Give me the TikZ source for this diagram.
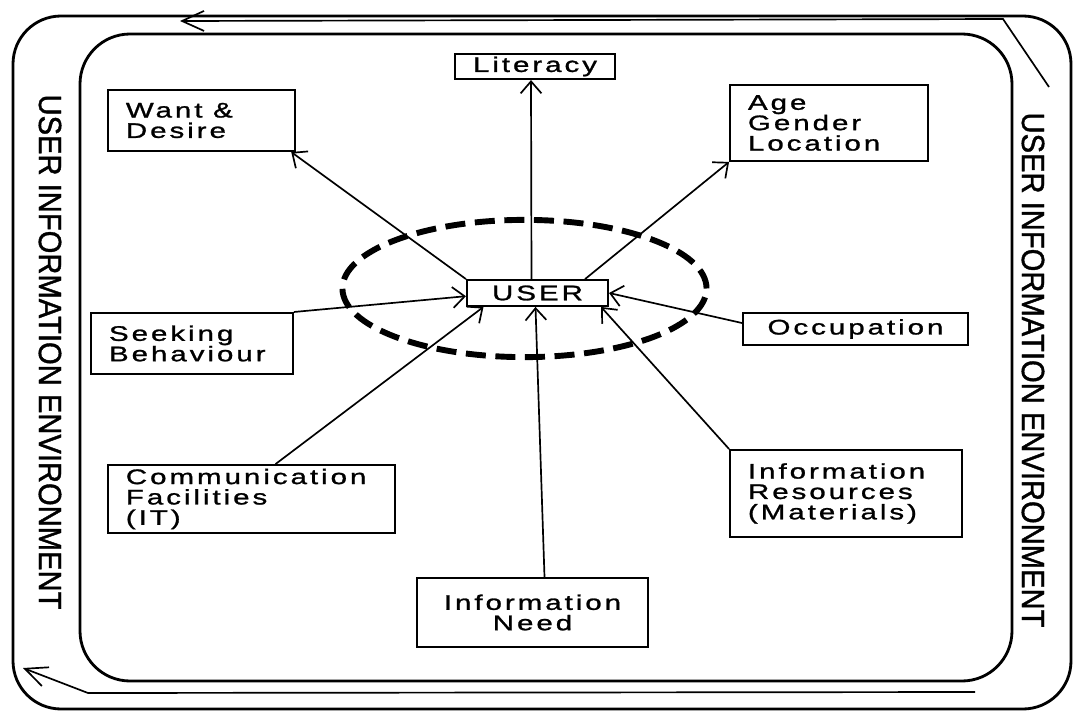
\documentclass[tikz,border=0pt]{standalone}
\usepackage{fontspec}
\setmainfont{Liberation Sans}
\newfontfamily\boxfont[FakeStretch=1.4,LetterSpace=14,FakeBold=1.2]{Liberation Sans}
\newfontfamily\sidefont[FakeStretch=0.91,FakeBold=1.2]{Liberation Sans}
\usetikzlibrary{positioning,arrows.meta,shapes.geometric}

\begin{document}
\begin{tikzpicture}[
  x=0.025cm, y=-0.025cm,
  >={Straight Barb[length=3mm,width=5.2mm]},
  factor/.style={
    draw, line width=1.3pt,
    inner xsep=0.45cm, inner ysep=2pt,
    align=left,
    font=\boxfont\fontsize{15}{14.5}\selectfont,
  },
  conn/.style={->, line width=1.2pt},
  frame/.style={line width=2pt, rounded corners=#1},
  envarrow/.style={->, line width=1.2pt, >={Straight Barb[length=5.5mm,width=5mm]}},
  sidelabel/.style={rotate=-90, inner sep=0pt, font=\sidefont\fontsize{22.8}{24}\selectfont},
]
\useasboundingbox (0,0) rectangle (1074,711);

% --- environment frames ----------------------------------------------
\draw[frame=1.2cm]  (13,16) rectangle (1071,709);
\draw[frame=1.25cm] (80,34) rectangle (1012,681);

\node[sidelabel] (envL) at (50,352)   {USER INFORMATION ENVIRONMENT};
\node[sidelabel] (envR) at (1033,370) {USER INFORMATION ENVIRONMENT};

% flow round the environment
\coordinate (topR)  at (1049,87);
\coordinate (topK)  at (1003,19);
\coordinate (topL)  at (180,21);
\coordinate (botR)  at (975,692);
\coordinate (botK)  at (88,693);
\coordinate (botL)  at (23,668);
\draw[envarrow] (topR) -- (topK) -- (topL);
\draw[envarrow] (botR) -- (botK) -- (botL);

% --- user and its surrounding ring -----------------------------------
\node[ellipse, draw, line width=4.2pt, dash pattern=on 0.5cm off 0.24cm,
      minimum width=9.1cm, minimum height=3.43cm] (ring) at (524.5,288.5) {};
\node[factor, fill=white, align=center, minimum width=3.53cm, minimum height=0.65cm]
  (user) at (537.5,293) {USER};

% --- factors ---------------------------------------------------------
\node[factor, align=center, minimum width=3.65cm, minimum height=0.63cm]
  (lit) at (535,66.5) {Literacy};
\node[factor, text width=3.78cm, minimum height=1.53cm]
  (want) at (201.5,120.5) {Want\kern0.5em\&\\Desire};
\node[factor, text width=4.05cm, minimum height=1.9cm]
  (age) at (829,123) {Age\\Gender\\Location};
\node[factor, text width=4.15cm, minimum height=1.53cm]
  (seek) at (192,343.5) {Seeking\\Behaviour};
\node[factor, align=center, minimum width=5.63cm, minimum height=0.8cm]
  (occ) at (855.5,329) {Occupation};
\node[factor, text width=6.28cm, minimum height=1.7cm]
  (comm) at (251.5,499) {Communication\\Facilities\\(IT)};
\node[factor, text width=4.9cm, minimum height=2.18cm]
  (res) at (846,493.5) {Information\\Resources\\(Materials)};
\node[factor, align=center, minimum width=5.78cm, minimum height=1.73cm]
  (need) at (532.5,612.5) {Information\\Need};

% --- links -----------------------------------------------------------
\draw[conn] ([xshift=-0.15cm]user.north) -- ([xshift=-0.1cm]lit.south);
\draw[conn] (user.north west) -- ([xshift=-0.12cm]want.south east);
\draw[conn] ([xshift=-0.6cm]user.north east) -- (age.south west);
\draw[conn] (seek.north east) -- ([yshift=-0.08cm]user.west);
\draw[conn] ([yshift=0.15cm]occ.west) -- (user.east);
\draw[conn] ([xshift=0.6cm]comm.north) -- ([xshift=-1.35cm]user.south);
\draw[conn] ([xshift=0.3cm]need.north) -- ([xshift=-0.05cm]user.south);
\draw[conn] (res.north west) -- ([xshift=-0.2cm]user.south east);

\end{tikzpicture}
\end{document}
